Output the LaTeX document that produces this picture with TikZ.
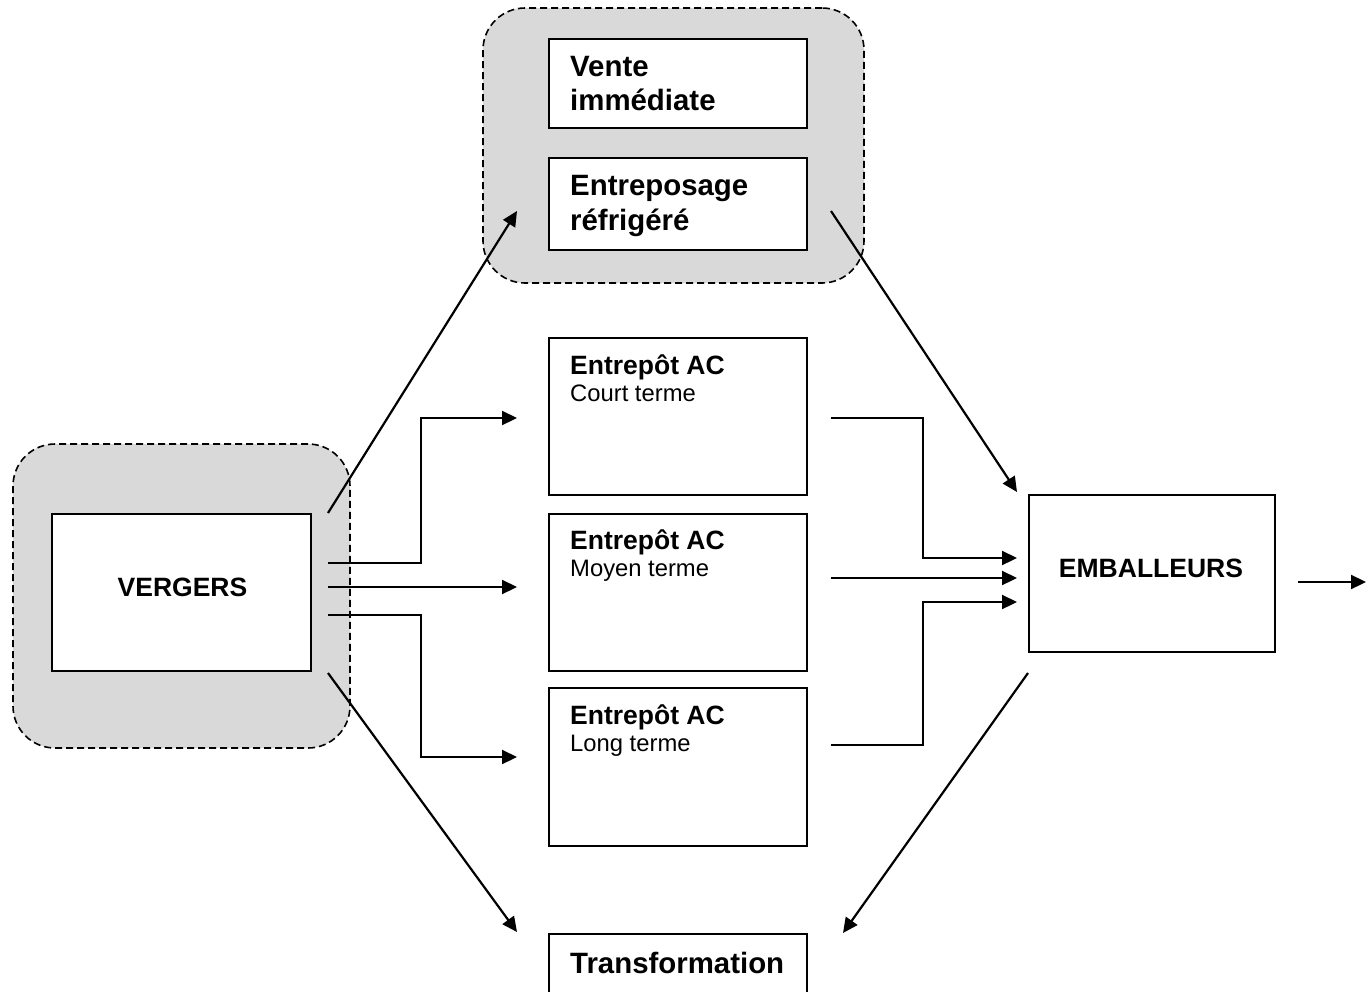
\documentclass[tikz,border=0pt]{standalone}
\usepackage{fontspec}
\setmainfont{Liberation Sans}
\usetikzlibrary{arrows.meta,calc}
\begin{document}
\begin{tikzpicture}[x=1pt,y=-1pt,
  box/.style={draw=black, line width=2pt, fill=white, inner sep=0pt, minimum width=258pt},
  grp/.style={draw=black, dash pattern=on 7pt off 4pt, line width=1.6pt, fill=gray!30, rounded corners=42pt, inner sep=0pt},
  lbl/.style={anchor=base west, inner sep=0pt},
  clbl/.style={anchor=base, inner sep=0pt},
  big/.style={font=\fontsize{29.4}{34}\selectfont\bfseries},
  mid/.style={font=\fontsize{26.5}{30}\selectfont\bfseries},
  small/.style={font=\fontsize{23.8}{28}\selectfont},
  conn/.style={line width=2.2pt, -{Triangle[length=15pt,width=14pt]}}
]
\useasboundingbox (0,0) rectangle (1371,991);
% groups
\node[grp, minimum width=381pt, minimum height=275pt] (gtop) at (673.5,145.5) {};
\node[grp, minimum width=337pt, minimum height=304pt] (gleft) at (181.5,596) {};
% boxes
\node[box, minimum height=89pt] (vente) at (678,83.5) {};
\node[box, minimum height=92pt] (entrepo) at (678,204) {};
\node[box, minimum height=157pt] (court) at (678,416.5) {};
\node[box, minimum height=157pt] (moyen) at (678,592.5) {};
\node[box, minimum height=158pt] (long) at (678,767) {};
\node[box, minimum height=90pt] (transfo) at (678,979) {};
\node[box, minimum width=259pt, minimum height=157pt] (vergers) at (181.5,592.5) {};
\node[box, minimum width=246pt, minimum height=157pt] (emb) at (1152,573.5) {};
% texts
\node[lbl, big] (t1a) at (570,76) {Vente};
\node[lbl, big] (t1b) at (570,110) {immédiate};
\node[lbl, big] (t2a) at (570,195) {Entreposage};
\node[lbl, big] (t2b) at (570,230) {réfrigéré};
\node[lbl, mid] (t3a) at (570,374) {Entrepôt AC};
\node[lbl, small] (t3b) at (570,401) {Court terme};
\node[lbl, mid] (t4a) at (570,549) {Entrepôt AC};
\node[lbl, small] (t4b) at (570,576) {Moyen terme};
\node[lbl, mid] (t5a) at (570,724) {Entrepôt AC};
\node[lbl, small] (t5b) at (570,751) {Long terme};
\node[lbl, big] (t6) at (570,973) {Transformation};
\node[clbl, mid] (t7) at (182.5,596.5) {VERGERS};
\node[clbl, mid] (t8) at (1151,577) {EMBALLEURS};
% connectors
\draw[conn] ($(vergers.north east)+(16,0)$) -- ($(entrepo.west)+(-31,7)$);
\draw[conn] ($(vergers.east)+(16,-29.5)$) -| ($(court.west)+(-127,1.5)$) -- ($(court.west)+(-31,1.5)$);
\draw[conn] ($(vergers.east)+(16,-5.5)$) -- ($(moyen.west)+(-31,-5.5)$);
\draw[conn] ($(vergers.east)+(16,22.5)$) -| ($(long.west)+(-127,-10)$) -- ($(long.west)+(-31,-10)$);
\draw[conn] ($(vergers.south east)+(16,1)$) -- ($(transfo.north west)+(-31,-1)$);
\draw[conn] ($(entrepo.east)+(23,7)$) -- ($(emb.north west)+(-11,-2)$);
\draw[conn] ($(court.east)+(23,1.5)$) -| ($(emb.west)+(-105,-15.5)$) -- ($(emb.west)+(-11,-15.5)$);
\draw[conn] ($(moyen.east)+(23,-14.5)$) -- ($(emb.west)+(-11,4.5)$);
\draw[conn] ($(long.east)+(23,-22)$) -| ($(emb.west)+(-105,28.5)$) -- ($(emb.west)+(-11,28.5)$);
\draw[conn] ($(emb.south west)+(0,20)$) -- ($(transfo.north east)+(35,0)$);
\coordinate (out) at (1366,582);
\draw[conn] ($(emb.east)+(22,8.5)$) -- (out);
\end{tikzpicture}
\end{document}
